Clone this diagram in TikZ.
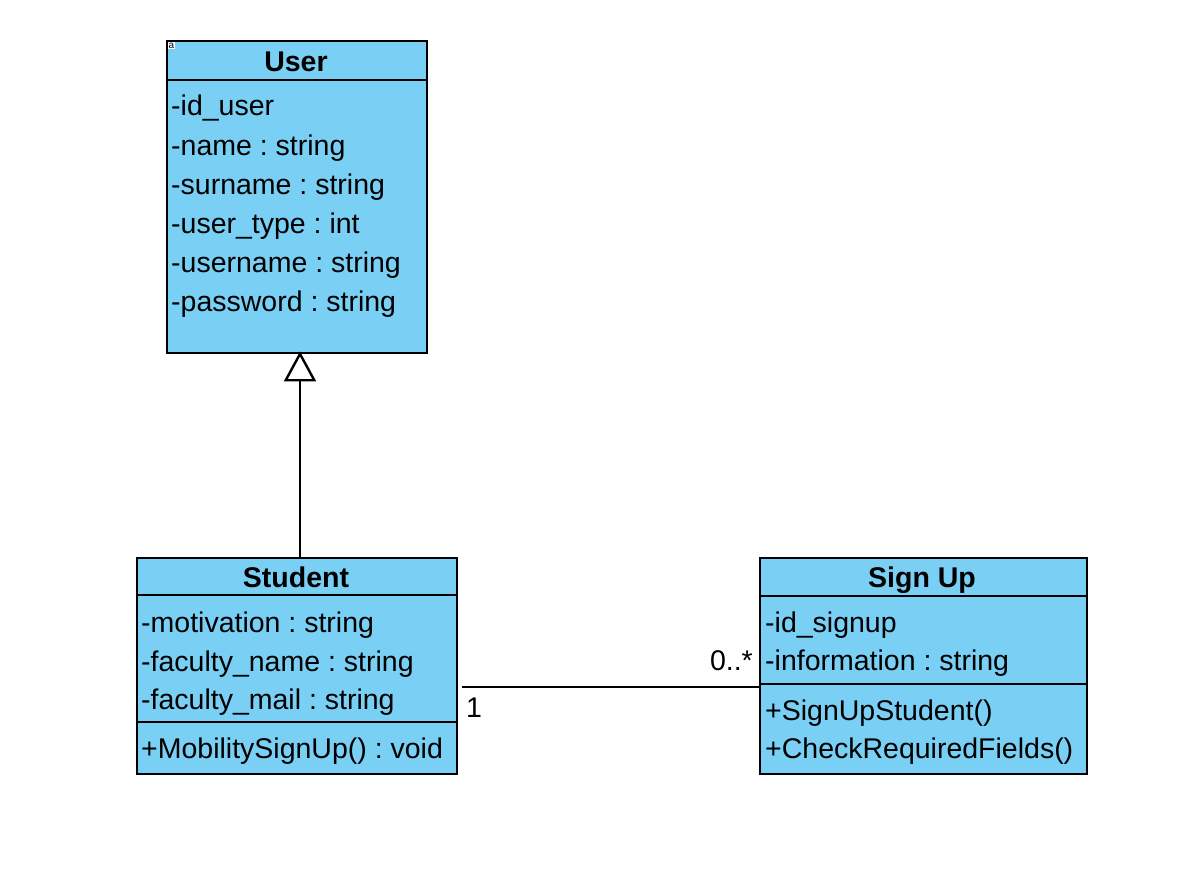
\documentclass[tikz,border=0pt]{standalone}
\usepackage{fontspec}
\setmainfont{Liberation Sans}
\usetikzlibrary{arrows.meta}
\definecolor{classblue}{RGB}{122,207,245}
\frenchspacing
\tikzset{
  classbox/.style={draw,fill=classblue,line width=2.4pt,anchor=north west,inner sep=0pt},
  classname/.style={anchor=base,inner sep=0pt,font=\fontsize{28.5}{34}\selectfont\bfseries},
  member/.style={anchor=base west,inner sep=0pt,font=\fontsize{28.5}{34}\selectfont},
  mult/.style={inner sep=0pt,font=\fontsize{28.5}{34}\selectfont},
  sep/.style={line width=2.4pt},
  link/.style={line width=2.4pt},
  generalization/.style={line width=2.4pt,-{Triangle[open,length=30pt,width=32pt]}}
}
\begin{document}
\begin{tikzpicture}[x=1pt,y=-1pt]
				\useasboundingbox (0,0) rectangle (1178,884);
				% class boxes
				\node[classbox,minimum width=260pt,minimum height=312pt] (user) at (166,40) {};
				\node[classbox,minimum width=320pt,minimum height=216pt] (student) at (136,557) {};
				\node[classbox,minimum width=327pt,minimum height=216pt] (signup) at (759,557) {};

				% User
				\draw[sep] (166,80) -- (426,80);
				\node[classname] (usertitle) at (296,71) {User};
				\node[fill=white,inner sep=0.5pt,font=\fontsize{10}{10}\selectfont] (usertag) at (171.5,45.5) {a};
				\node[member] (u1) at (171,115) {-id\_user};
				\node[member] (u2) at (171,155) {-name : string};
				\node[member] (u3) at (171,194) {-surname : string};
				\node[member] (u4) at (171,233) {-user\_type : int};
				\node[member] (u5) at (171,272) {-username : string};
				\node[member] (u6) at (171,311) {-password : string};

				% Student
				\draw[sep] (136,595) -- (456,595);
				\draw[sep] (136,722) -- (456,722);
				\node[classname] (studenttitle) at (296,587) {Student};
				\node[member] (s1) at (141,632) {-motivation : string};
				\node[member] (s2) at (141,671) {-faculty\_name : string};
				\node[member] (s3) at (141,709) {-faculty\_mail : string};
				\node[member] (s4) at (141,758) {+MobilitySignUp() : void};

				% Sign Up
				\draw[sep] (759,596) -- (1086,596);
				\draw[sep] (759,684) -- (1086,684);
				\node[classname] (signuptitle) at (922,587) {Sign Up};
				\node[member] (p1) at (765,632) {-id\_signup};
				\node[member] (p2) at (765,670) {-information : string};
				\node[member] (p3) at (765,720) {+SignUpStudent()};
				\node[member] (p4) at (765,758) {+CheckRequiredFields()};

				% connectors
				\coordinate (genx) at (300,0);
				\coordinate (assocy) at (0,687);
				\draw[generalization] (student.north -| genx) -- ([yshift=3pt]user.south -| genx);
				\draw[link] ([xshift=4pt]student.east |- assocy) -- (signup.west |- assocy);
				\node[mult,anchor=base west] (m1) at (466,717) {1};
				\node[mult,anchor=base east] (m2) at (753,670) {0..*};
			\end{tikzpicture}
\end{document}
